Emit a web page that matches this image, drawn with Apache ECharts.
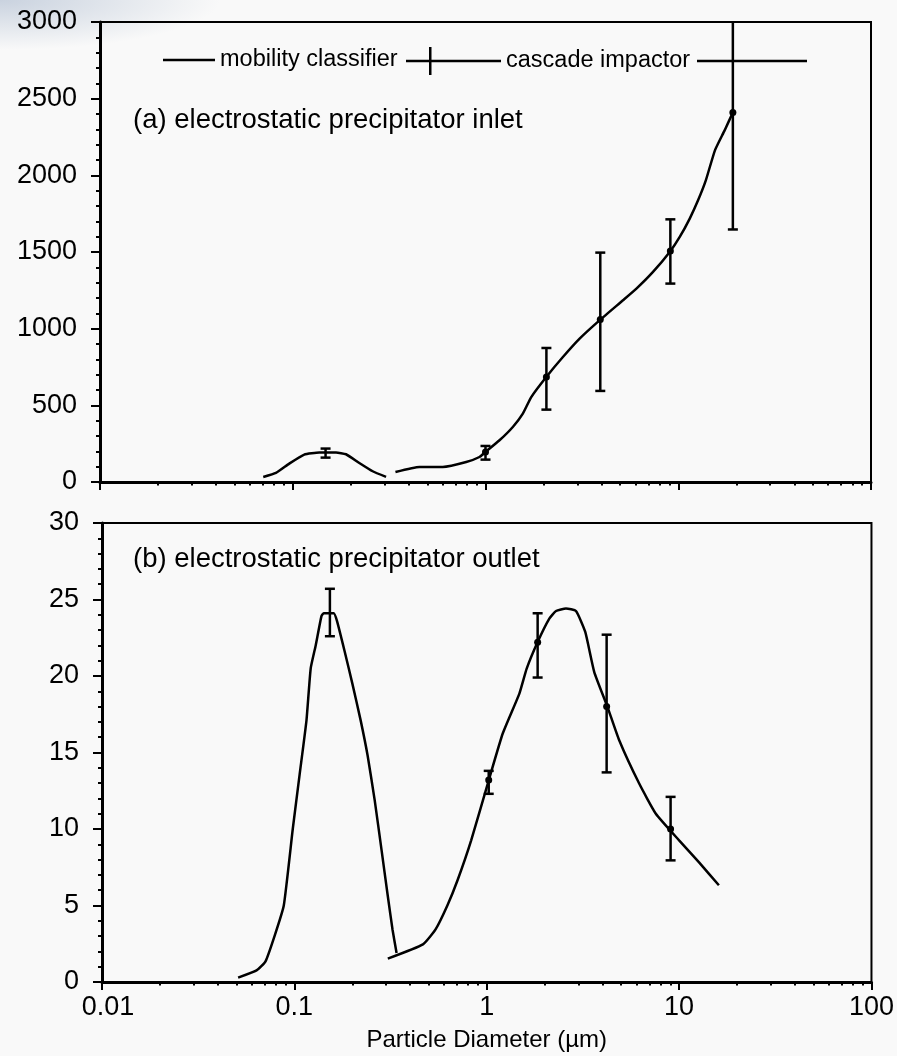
<!DOCTYPE html>
<html>
<head>
<meta charset="utf-8">
<script src="https://cdn.jsdelivr.net/npm/echarts@6/dist/echarts.min.js"></script>
<style>
  html, body { margin: 0; padding: 0; }
  body {
    width: 897px; height: 1056px;
    background: radial-gradient(ellipse 220px 50px at 0 0, rgba(196,206,220,0.9), rgba(249,249,249,0)), #f9f9f9;
  }
  #chart { width: 897px; height: 1056px; }
</style>
</head>
<body>
<div id="chart"></div>
<script>
// (a) inlet, mobility classifier: two pieces of the curve
const inletSmallD = [0.0703, 0.0818, 0.0959, 0.1147, 0.1373, 0.1677, 0.189, 0.2215, 0.2598, 0.3049];
const inletSmallV = [33, 59, 120, 179, 192, 192, 181, 124, 70, 33];
const inletLargeD = [0.341, 0.454, 0.600, 0.794, 0.93, 1.0, 1.182, 1.386, 1.562, 1.727, 2.067, 2.521, 3.078, 3.943, 5.167, 6.066, 7.397, 9.032, 10.18, 11.47, 12.67, 13.9, 15.5, 17.4, 19.2];
const inletLargeV = [65, 98, 98, 130, 163, 196, 272, 359, 446, 554, 685, 815, 935, 1059, 1185, 1261, 1370, 1500, 1598, 1718, 1837, 1967, 2163, 2293, 2410];

// (a) inlet error bars
const inletClassD = [0.148];
const inletClassMean = [190];
const inletClassLow = [159];
const inletClassHigh = [218];
const inletImpD = [1.0, 2.07, 3.94, 9.1, 19.2];
const inletImpMean = [196, 685, 1059, 1507, 2410];
const inletImpLow = [146, 472, 594, 1294, 1647];
const inletImpHigh = [235, 874, 1496, 1713, 3170];

// (b) outlet, mobility classifier
const outletSmallD = [0.051, 0.0636, 0.0708, 0.0791, 0.0881, 0.0981, 0.1066, 0.1156, 0.1216, 0.1291, 0.1382, 0.1421, 0.1601, 0.1665, 0.1826, 0.2002, 0.2211, 0.2403, 0.2614, 0.2841, 0.3053, 0.324, 0.3399];
const outletSmallV = [0.29, 0.76, 1.35, 3.05, 5.0, 10.0, 13.6, 17.1, 20.5, 22.0, 23.9, 24.1, 24.1, 23.6, 21.6, 19.5, 17.1, 14.8, 11.9, 8.6, 5.7, 3.4, 1.9];
const outletLargeD = [0.306, 0.466, 0.542, 0.625, 0.705, 0.83, 1.024, 1.211, 1.478, 1.613, 1.839, 2.115, 2.292, 2.582, 2.91, 3.252, 3.622, 4.246, 4.882, 6.201, 7.569, 10.0, 12.7, 16.1];
const outletLargeV = [1.53, 2.46, 3.44, 5.02, 6.65, 9.26, 13.18, 16.24, 18.85, 20.48, 22.22, 23.75, 24.25, 24.41, 24.25, 22.88, 20.26, 17.97, 15.8, 12.97, 11.0, 9.26, 7.82, 6.32];

// (b) outlet error bars
const outletClassD = [0.153];
const outletClassMean = [24.0];
const outletClassLow = [22.6];
const outletClassHigh = [25.7];
const outletImpD = [1.024, 1.839, 4.2, 9.03];
const outletImpMean = [13.2, 22.2, 18.0, 10.0];
const outletImpLow = [12.3, 19.9, 13.7, 7.95];
const outletImpHigh = [13.8, 24.1, 22.7, 12.1];

const FONT = '"Liberation Sans", Arial, sans-serif';

function pairs(xs, ys) {
  return xs.map((x, i) => [x, ys[i]]);
}

function bars(xs, low, high, mean) {
  return xs.map((x, i) => [x, low[i], high[i], mean[i]]);
}

function errorBar(withDot) {
  return function (params, api) {
    const x = api.value(0);
    const lo = api.coord([x, api.value(1)]);
    const hi = api.coord([x, api.value(2)]);
    const mid = api.coord([x, api.value(3)]);
    const half = 5;
    const style = { stroke: '#000', lineWidth: 2.5 };
    const children = [
      { type: 'line', shape: { x1: lo[0], y1: lo[1], x2: hi[0], y2: hi[1] }, style: style },
      { type: 'line', shape: { x1: lo[0] - half, y1: lo[1], x2: lo[0] + half, y2: lo[1] }, style: style },
      { type: 'line', shape: { x1: hi[0] - half, y1: hi[1], x2: hi[0] + half, y2: hi[1] }, style: style }
    ];
    if (withDot) {
      children.push({ type: 'circle', shape: { cx: mid[0], cy: mid[1], r: 3.5 }, style: { fill: '#000' } });
    }
    return { type: 'group', children: children };
  };
}

function curve(name, idx, data) {
  return {
    name: name,
    type: 'line',
    xAxisIndex: idx,
    yAxisIndex: idx,
    data: data,
    symbol: 'none',
    smooth: 0.15,
    color: '#000',
    lineStyle: { color: '#000', width: 2.5 },
    animation: false
  };
}

function barSeries(name, idx, data, withDot) {
  return {
    name: name,
    type: 'custom',
    xAxisIndex: idx,
    yAxisIndex: idx,
    data: data,
    clip: true,
    color: '#000',
    renderItem: errorBar(withDot),
    animation: false
  };
}

function xAxisFor(idx, withLabels) {
  return {
    type: 'log',
    logBase: 10,
    gridIndex: idx,
    min: 0.01,
    max: 100,
    splitLine: { show: false },
    axisLine: { lineStyle: { color: '#000', width: 3 } },
    axisTick: { inside: false, length: 8, lineStyle: { color: '#000', width: 2 } },
    minorTick: { show: true, splitNumber: 9, length: 3.5, lineStyle: { color: '#000', width: 2 } },
    axisLabel: {
      show: withLabels, margin: 12, color: '#000', fontSize: 27, fontFamily: FONT,
      formatter: function (v) { return v === 0.01 ? '{first|0.01}' : String(v); },
      rich: { first: { fontSize: 27, fontFamily: FONT, color: '#000', padding: [0, 0, 0, 12] } }
    },
    name: withLabels ? 'Particle Diameter (µm)' : '',
    nameLocation: 'middle',
    nameGap: 46,
    nameTextStyle: { color: '#000', fontSize: 24, fontFamily: FONT }
  };
}

function yAxisFor(idx, max, interval) {
  return {
    type: 'value',
    gridIndex: idx,
    min: 0,
    max: max,
    interval: interval,
    splitLine: { show: false },
    axisLine: { lineStyle: { color: '#000', width: 3 } },
    axisTick: { inside: false, length: 9, lineStyle: { color: '#000', width: 2 } },
    minorTick: { show: true, splitNumber: 5, length: 4, lineStyle: { color: '#000', width: 2 } },
    axisLabel: {
      margin: 23, color: '#000', fontSize: 27, fontFamily: FONT,
      formatter: function (v) { return String(v); }
    }
  };
}

const chart = echarts.init(document.getElementById('chart'));

chart.setOption({
  backgroundColor: 'transparent',
  animation: false,
  textStyle: { fontFamily: FONT },
  grid: [
    { left: 100, top: 22, width: 771, height: 460, show: true, borderColor: '#000', borderWidth: 2, backgroundColor: 'transparent' },
    { left: 102, top: 523, width: 771, height: 459, show: true, borderColor: '#000', borderWidth: 2, backgroundColor: 'transparent' }
  ],
  title: [
    { text: '(a) electrostatic precipitator inlet', left: 133, top: 106, padding: 0,
      textStyle: { fontSize: 27.5, fontWeight: 'normal', color: '#000', fontFamily: FONT } },
    { text: '(b) electrostatic precipitator outlet', left: 133, top: 545, padding: 0,
      textStyle: { fontSize: 27.5, fontWeight: 'normal', color: '#000', fontFamily: FONT } }
  ],
  legend: [
    {
      data: [{ name: 'mobility classifier', icon: 'path://M0,0H52V2.5H0Z' }],
      left: 163, top: 48, padding: 0,
      itemWidth: 52, itemHeight: 26,
      textStyle: { fontSize: 23.5, color: '#000', fontFamily: FONT }
    },
    {
      data: [{ name: 'cascade impactor', icon: 'path://M0,12.75H95V15.25H0Z M23,0H25.5V28H23Z' }],
      left: 406, top: 47, padding: 0,
      itemWidth: 95, itemHeight: 28,
      textStyle: { fontSize: 23.5, color: '#000', fontFamily: FONT }
    }
  ],
  graphic: [
    { type: 'line', shape: { x1: 697, y1: 61, x2: 807, y2: 61 }, style: { stroke: '#000', lineWidth: 2.5 } }
  ],
  xAxis: [xAxisFor(0, false), xAxisFor(1, true)],
  yAxis: [yAxisFor(0, 3000, 500), yAxisFor(1, 30, 5)],
  series: [
    curve('mobility classifier', 0, pairs(inletSmallD, inletSmallV)),
    curve('mobility classifier', 0, pairs(inletLargeD, inletLargeV)),
    barSeries('classifier bars a', 0, bars(inletClassD, inletClassLow, inletClassHigh, inletClassMean), false),
    barSeries('cascade impactor', 0, bars(inletImpD, inletImpLow, inletImpHigh, inletImpMean), true),
    curve('mobility classifier', 1, pairs(outletSmallD, outletSmallV)),
    curve('mobility classifier', 1, pairs(outletLargeD, outletLargeV)),
    barSeries('classifier bars b', 1, bars(outletClassD, outletClassLow, outletClassHigh, outletClassMean), false),
    barSeries('cascade impactor', 1, bars(outletImpD, outletImpLow, outletImpHigh, outletImpMean), true)
  ]
});
</script>
</body>
</html>
